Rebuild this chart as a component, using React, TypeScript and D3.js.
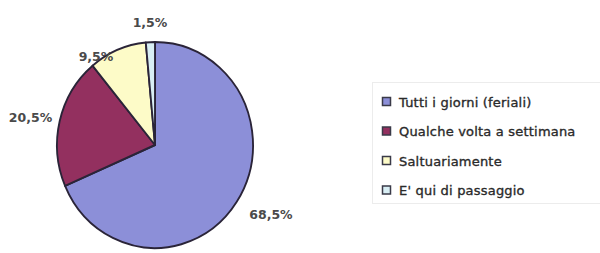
import React, { useEffect, useRef } from 'react'
import { select, pie, arc, PieArcDatum } from 'd3'

// quote di frequenza (percentuali)
const categories = ['Tutti i giorni (feriali)', 'Qualche volta a settimana', 'Saltuariamente', "E' qui di passaggio"]
const values = [68.5, 20.5, 9.5, 1.5]
const valueLabels = ['68,5%', '20,5%', '9,5%', '1,5%']
const colors = ['#8c8fd8', '#93305f', '#fdfbc8', '#d8eef4']

const W = 600
const H = 253

export default function App() {
    const svgRef = useRef<SVGSVGElement>(null)

    useEffect(() => {
        const svg = select(svgRef.current)
        svg.selectAll('*').remove()

        svg.append('rect').attr('width', W).attr('height', H).attr('fill', '#fff')

        const cx = 155, cy = 145, r = 100

        const layout = pie<number>().sort(null).value(d => d)
        const arcs = layout(values)
        const slice = arc<PieArcDatum<number>>().innerRadius(0).outerRadius(r)

        const g = svg.append('g').attr('transform', `translate(${cx},${cy}) scale(0.98,1.03)`)

        g.selectAll('path')
            .data(arcs)
            .enter()
            .append('path')
            .attr('d', slice)
            .attr('fill', (d, i) => colors[i])
            .attr('stroke', '#2a2438')
            .attr('stroke-width', 1.9)
            .attr('stroke-linejoin', 'round')

        // etichette fuori dalla torta
        const labelArc = arc<PieArcDatum<number>>().innerRadius(128).outerRadius(128)
        const nudge = [[9, -1], [0, 2], [-10, 30], [1, 5]]
        svg.append('g')
            .selectAll('text')
            .data(arcs)
            .enter()
            .append('text')
            .attr('x', (d, i) => cx + labelArc.centroid(d)[0] + nudge[i][0])
            .attr('y', (d, i) => cy + labelArc.centroid(d)[1] + nudge[i][1])
            .attr('text-anchor', 'middle')
            .attr('dominant-baseline', 'central')
            .attr('font-family', 'DejaVu Sans, sans-serif')
            .attr('font-weight', 'bold')
            .attr('font-size', 12.5)
            .attr('fill', '#4a4a4a')
            .text((d, i) => valueLabels[i])

        // legenda
        const legend = svg.append('g')
        legend.append('rect')
            .attr('x', 372.5).attr('y', 82.5)
            .attr('width', 240).attr('height', 121)
            .attr('fill', '#fff')
            .attr('stroke', '#ececec')

        const items = legend.selectAll('g.item')
            .data(categories)
            .enter()
            .append('g')
            .attr('class', 'item')
            .attr('transform', (d, i) => `translate(382,${101 + i * 29.5})`)

        items.append('rect')
            .attr('x', 0.5).attr('y', -3.5)
            .attr('width', 8).attr('height', 8)
            .attr('fill', (d, i) => colors[i])
            .attr('stroke', '#3a3a48')
            .attr('stroke-width', 1.5)

        items.append('text')
            .attr('x', 17)
            .attr('y', 1)
            .attr('dominant-baseline', 'central')
            .attr('font-family', 'DejaVu Sans, sans-serif')
            .attr('font-size', 13)
            .attr('letter-spacing', 0.2)
            .attr('fill', '#2a2a2a')
            .attr('stroke', '#2a2a2a')
            .attr('stroke-width', 0.35)
            .text(d => d)
    }, [])

    return (
        <svg ref={svgRef} width={W} height={H}
            style={{ position: 'absolute', left: 0, top: 0, display: 'block' }} />
    )
}
